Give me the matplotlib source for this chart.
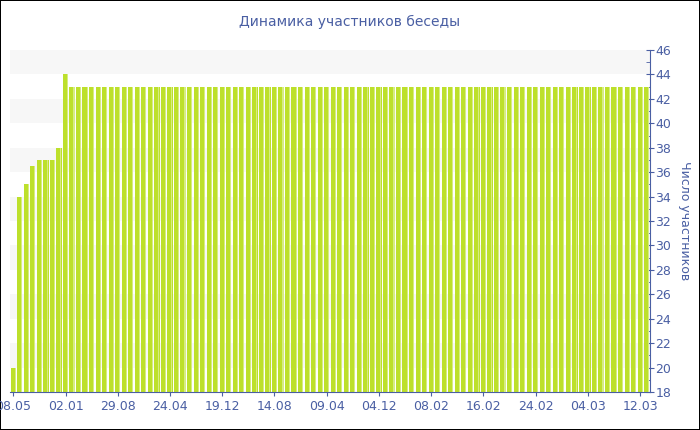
import numpy as np
import matplotlib.pyplot as plt
from matplotlib.ticker import MultipleLocator

# number of chat members per day
members = [
    20, 34, 35, 36.5, 37, 37, 37, 38, 44, 43,
    43, 43, 43, 43, 43, 43, 43, 43, 43, 43,
    43, 43, 43, 43, 43, 43, 43, 43, 43, 43,
    43, 43, 43, 43, 43, 43, 43, 43, 43, 43,
    43, 43, 43, 43, 43, 43, 43, 43, 43, 43,
    43, 43, 43, 43, 43, 43, 43, 43, 43, 43,
    43, 43, 43, 43, 43, 43, 43, 43, 43, 43,
    43, 43, 43, 43, 43, 43, 43, 43, 43, 43,
    43, 43, 43, 43, 43, 43, 43, 43, 43, 43,
    43, 43, 43, 43, 43, 43, 43, 43,
]
date_labels = ['08.05', '02.01', '29.08', '24.04', '19.12', '14.08', '09.04',
               '04.12', '08.02', '16.02', '24.02', '04.03', '12.03']
label_step = 8

title = 'Динамика участников беседы'
ylabel = 'Число участников'

blue = '#4a5fa3'
bar_color = '#bde02b'
stripe_color = '#d6ed82'


def main():
    plt.rcParams['font.family'] = ['DejaVu Sans']
    fig = plt.figure(figsize=(7, 4.3), dpi=100)
    ax = fig.add_axes([10 / 700, 38 / 430, 640 / 700, 342 / 430])

    x = np.arange(len(members))
    vals = np.array(members)
    ax.set_xlim(-0.5, len(members) - 0.5)
    ax.set_ylim(18, 46)

    # alternating horizontal bands
    for lo in range(20, 46, 4):
        ax.axhspan(lo, lo + 2, color='#f7f7f7', zorder=0, lw=0)

    ax.bar(x, vals - 18, bottom=18, width=0.8, color=bar_color, lw=0, zorder=2)
    ax.bar(x + 0.3, vals - 18, bottom=18, width=0.16, color=stripe_color,
           lw=0, zorder=3)

    for s in ['top', 'left']:
        ax.spines[s].set_visible(False)
    ax.spines['right'].set_color(blue)
    ax.spines['bottom'].set_color(blue)

    ax.yaxis.tick_right()
    ax.yaxis.set_label_position('right')
    ax.yaxis.set_major_locator(MultipleLocator(2))
    ax.yaxis.set_minor_locator(MultipleLocator(1))
    ax.tick_params(axis='y', which='major', direction='inout', length=6,
                   color=blue, labelcolor=blue, labelsize=9, pad=1)
    ax.tick_params(axis='y', which='minor', direction='in', length=3,
                   color=blue)
    ax.set_ylabel(ylabel, color=blue, fontsize=9, rotation=270, labelpad=14)

    ticks = x[::label_step]
    ax.set_xticks(ticks)
    ax.set_xticklabels(date_labels)
    ax.tick_params(axis='x', direction='out', length=3, color=blue,
                   labelcolor=blue, labelsize=9, pad=3)

    fig.text(0.5, 1 - 22 / 430, title, ha='center', va='center',
             color=blue, fontsize=10)

    fig.patch.set_edgecolor('black')
    fig.patch.set_linewidth(1.2)
    fig.savefig('out.png', dpi=100, edgecolor='black')


if __name__ == '__main__':
    main()
